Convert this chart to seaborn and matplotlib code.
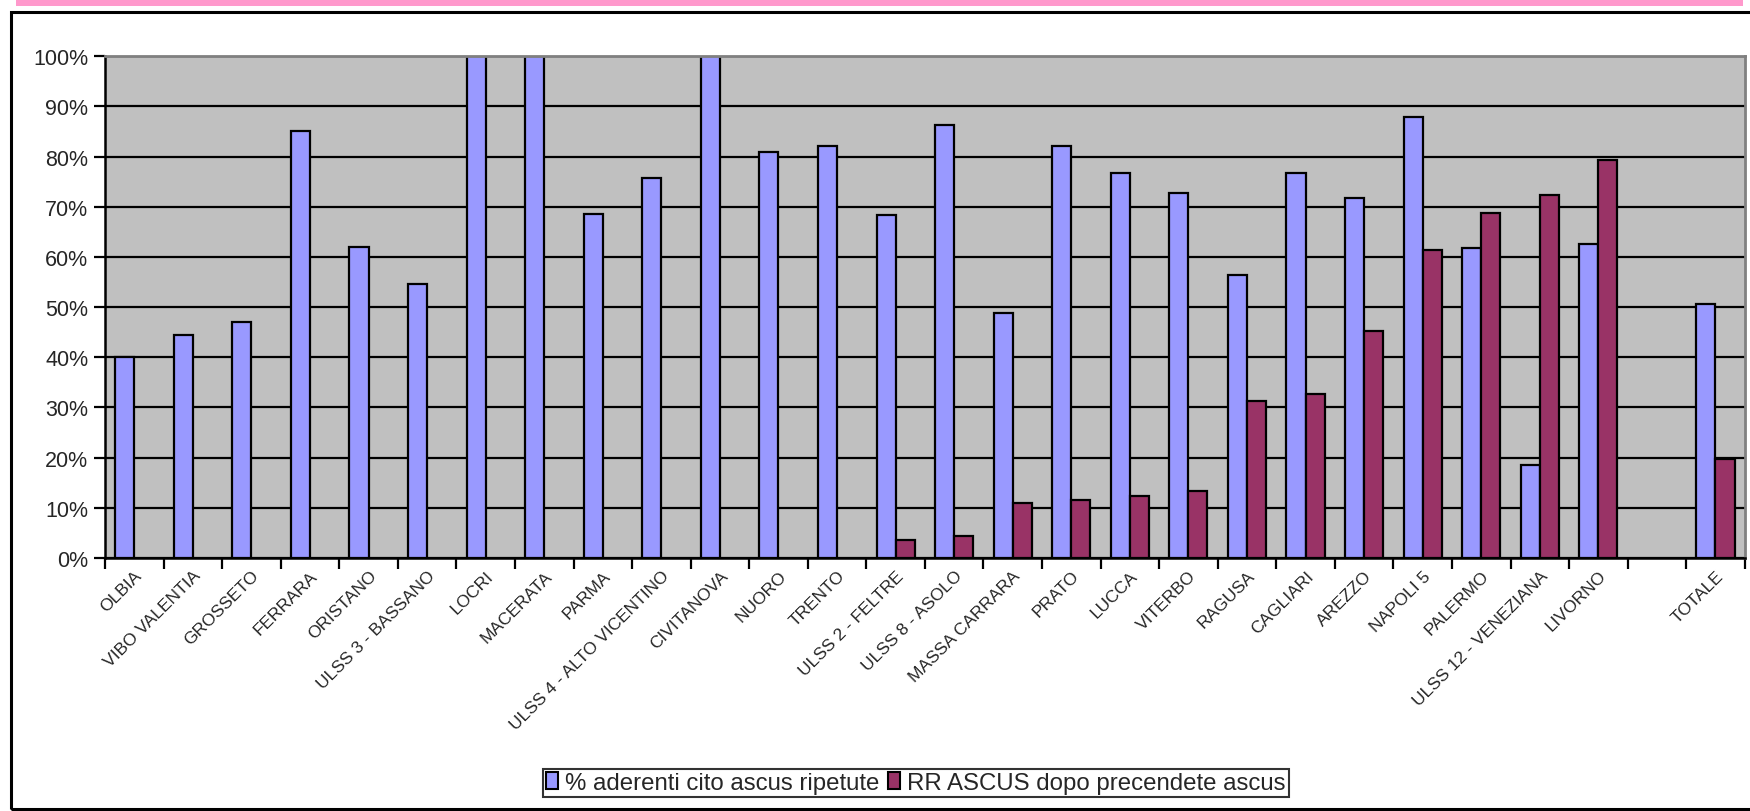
import numpy as np
import pandas as pd
import seaborn as sns
import matplotlib.pyplot as plt
from matplotlib.patches import Rectangle
from matplotlib.ticker import PercentFormatter

categories = ["OLBIA", "VIBO VALENTIA", "GROSSETO", "FERRARA", "ORISTANO",
              "ULSS 3 - BASSANO", "LOCRI", "MACERATA", "PARMA",
              "ULSS 4 - ALTO VICENTINO", "CIVITANOVA", "NUORO", "TRENTO",
              "ULSS 2 - FELTRE", "ULSS 8 - ASOLO", "MASSA CARRARA", "PRATO",
              "LUCCA", "VITERBO", "RAGUSA", "CAGLIARI", "AREZZO", "NAPOLI 5",
              "PALERMO", "ULSS 12 - VENEZIANA", "LIVORNO", " ", "TOTALE"]

aderenti = [40.0, 44.5, 47.0, 85.0, 62.0, 54.5, 100.0, 100.0, 68.5, 75.7,
            100.0, 81.0, 82.0, 68.3, 86.3, 48.8, 82.0, 76.7, 72.7, 56.3,
            76.7, 71.8, 87.8, 61.7, 18.6, 62.5, np.nan, 50.7]

rr_ascus = [np.nan, np.nan, np.nan, np.nan, np.nan, np.nan, np.nan, np.nan,
            np.nan, np.nan, np.nan, np.nan, np.nan, 3.5, 4.3, 11.0, 11.5,
            12.3, 13.3, 31.3, 32.7, 45.3, 61.3, 68.8, 72.3, 79.3, np.nan, 19.8]

series_names = ["% aderenti cito ascus ripetute", "RR ASCUS dopo precendete ascus"]
series_colors = ["#9999FF", "#993366"]

df = pd.DataFrame({
    "categoria": categories * 2,
    "valore": aderenti + rr_ascus,
    "serie": [series_names[0]] * len(categories) + [series_names[1]] * len(categories),
})

sns.set_style("white")
plt.rcParams["font.family"] = ["Liberation Sans Narrow", "Liberation Sans", "DejaVu Sans"]

fig = plt.figure(figsize=(17.5, 8.12), dpi=100)
ax = fig.add_axes([0.06, 0.3116, 0.937, 0.618])

sns.barplot(data=df, x="categoria", y="valore", hue="serie", order=categories,
            hue_order=series_names, palette=series_colors, width=0.65,
            edgecolor="black", linewidth=1.6, saturation=1, ax=ax,
            legend=True, errorbar=None)

ax.set_facecolor("#C0C0C0")
ax.set_axisbelow(True)
ax.set_ylim(0, 100)
ax.set_xlim(-0.5, len(categories) - 0.5)
ax.set_yticks(np.arange(0, 101, 10))
ax.yaxis.set_major_formatter(PercentFormatter(decimals=0))
ax.yaxis.grid(True, color="black", linewidth=1.6)
ax.xaxis.grid(False)
ax.set_xlabel("")
ax.set_ylabel("")

# category labels centred, tick marks on the category boundaries
ax.set_xticks(range(len(categories)))
ax.set_xticklabels(categories, rotation=45, ha="right", rotation_mode="anchor",
                   fontsize=12.5)
ax.tick_params(axis="x", which="major", length=0, pad=7)
ax.set_xticks(np.arange(-0.5, len(categories), 1), minor=True)
ax.tick_params(axis="x", which="minor", length=8, width=1.6, color="black",
               bottom=True)
ax.tick_params(axis="y", length=8, width=1.6, color="black", left=True,
               labelsize=15.5, pad=4)

for side in ("left", "bottom"):
    ax.spines[side].set_color("black")
    ax.spines[side].set_linewidth(1.8)
for side in ("top", "right"):
    ax.spines[side].set_color("#808080")
    ax.spines[side].set_linewidth(2.0)

handles, labels = ax.get_legend_handles_labels()
ax.legend_.remove()
leg = fig.legend(handles, labels, loc="center", ncol=2,
                 bbox_to_anchor=(0.5234, 0.0345), frameon=True, fancybox=False,
                 edgecolor="black", fontsize=17.3, handlelength=0.5,
                 handleheight=0.7, handletextpad=0.3, columnspacing=0.35,
                 borderpad=0.12, borderaxespad=0)
leg.get_frame().set_linewidth(1.5)
for h in leg.legend_handles:
    h.set_edgecolor("black")
    h.set_linewidth(1.5)

# chart frame and pink header band
fig.patches.append(Rectangle((11 / 1750, 0.002), 1.1, 1 - 13 / 812 - 0.002,
                             transform=fig.transFigure, fill=False,
                             edgecolor="black", linewidth=2.2, zorder=5))
fig.patches.append(Rectangle((16 / 1750, 1 - 7 / 812), 1727 / 1750, 7 / 812,
                             transform=fig.transFigure, facecolor="#FF99CC",
                             edgecolor="none", zorder=5))

fig.savefig("out.png", dpi=100)
